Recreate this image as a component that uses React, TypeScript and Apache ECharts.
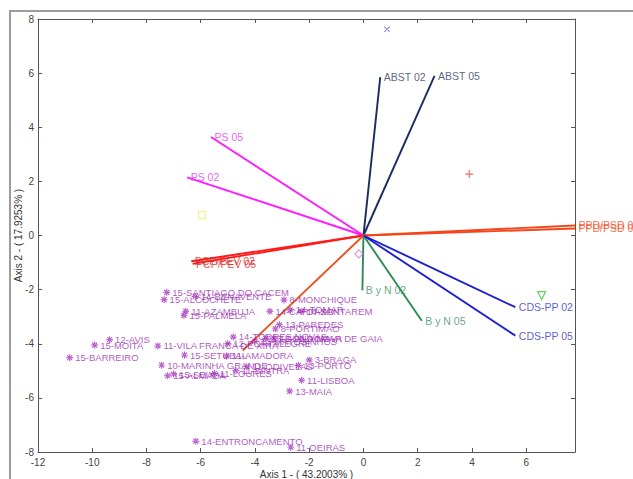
import React, { useEffect, useRef } from "react";
import * as echarts from "echarts";

// Variable vectors (loadings) : end points
const vectorNames = [
  "ABST 02", "ABST 05", "PS 02", "PS 05", "PCP/PEV 02", "PCP/PEV 05",
  "PPD/PSD 02", "PPD/PSD 05", "B y N 02", "B y N 05", "CDS-PP 02", "CDS-PP 05", "",
];
const vectorX = [0.62, 2.62, -6.5, -5.62, -6.35, -6.3, 7.8, 7.8, -0.04, 2.15, 5.6, 5.6, -4.45];
const vectorY = [5.85, 5.9, 2.15, 3.64, -0.95, -1.05, 0.37, 0.26, -2.02, -3.15, -2.65, -3.7, -4.25];

// Municipalities (scores)
const cityNames = [
  "15-SANTIAGO DO CACEM", "15-ALCOCHETE", "14-BENAVENTE", "11-AZAMBUJA", "15-PALMELA",
  "12-AVIS", "15-MOITA", "15-BARREIRO", "11-VILA FRANCA DE XIRA", "15-SETUBAL",
  "10-MARINHA GRANDE", "15-ALMADA", "15-SEIXAL", "11-AMADORA", "11-LOURES",
  "11-ODIVELAS", "11-SINTRA", "8-MONCHIQUE", "14-SANTAREM", "14-TOMAR",
  "14-CARTAXO", "13-PAREDES", "8-PORTIMAO", "14-TORRES NOVAS", "13-GONDOMAR",
  "13-VILA NOVA DE GAIA", "13-MATOSINHOS", "12-PORTALEGRE", "3-BRAGA", "13-PORTO",
  "11-LISBOA", "13-MAIA", "14-ENTRONCAMENTO", "11-OEIRAS",
];
const cityX = [
  -7.25, -7.35, -6.2, -6.55, -6.62,
  -9.36, -9.91, -10.83, -7.58, -6.6,
  -7.44, -7.22, -7.0, -5.05, -5.5,
  -4.3, -4.7, -2.93, -2.3, -2.7,
  -3.45, -3.1, -3.25, -4.8, -3.6,
  -3.3, -4.0, -5.0, -2.0, -2.4,
  -2.28, -2.72, -6.18, -2.68,
];
const cityY = [
  -2.1, -2.37, -2.25, -2.8, -2.95,
  -3.85, -4.05, -4.52, -4.08, -4.42,
  -4.79, -5.18, -5.12, -4.45, -5.1,
  -4.85, -5.0, -2.38, -2.8, -2.75,
  -2.8, -3.3, -3.45, -3.75, -3.8,
  -3.8, -3.9, -4.0, -4.6, -4.8,
  -5.35, -5.75, -7.6, -7.82,
];

// Group centroid markers
const centroidX = [0.87, 3.9, -5.95, -0.17, 6.57];
const centroidY = [7.62, 2.27, 0.75, -0.68, -2.22];

const xTicksStep = 2;

const vectorLineColors = [
  "#1c2c5c", "#1c2c5c", "#ff1aff", "#ff1aff", "#ff1a1a", "#ff1a1a",
  "#f5461a", "#f5461a", "#2e8b57", "#2e8b57", "#1e1ed2", "#1e1ed2", "#e8521e",
];
const vectorLabelColors = [
  "#2e3e60", "#2e3e60", "#dd3cdd", "#dd3cdd", "#e02020", "#e02020",
  "#f04a22", "#f04a22", "#3d9066", "#3d9066", "#3434c0", "#3434c0", "#e8521e",
];

const PLUS = "path://M-5,-0.7L5,-0.7L5,0.7L-5,0.7Z M-0.7,-5L0.7,-5L0.7,5L-0.7,5Z";
const CROSS =
  "path://M-3.08,-3.92L3.92,3.08L3.08,3.92L-3.92,-3.08Z M-3.08,3.92L3.92,-3.08L3.08,-3.92L-3.92,3.08Z";
const ASTER =
  "path://M-5,-0.7L5,-0.7L5,0.7L-5,0.7Z M-0.7,-5L0.7,-5L0.7,5L-0.7,5Z M-3.0,-4.0L4.0,3.0L3.0,4.0L-4.0,-3.0Z M-3.0,4.0L4.0,-3.0L3.0,-4.0L-4.0,3.0Z";

const centroidStyles = [
  { symbol: CROSS, size: 6, color: "#5050e0", fill: true },
  { symbol: PLUS, size: 8, color: "#e04848", fill: true },
  { symbol: "rect", size: 7, color: "#eded70", fill: false },
  { symbol: "diamond", size: 8, color: "#d878d8", fill: false },
  { symbol: "triangle", size: 8, color: "#44c044", fill: false, rotate: 180 },
];

const FONT = "'Liberation Sans', Arial, Helvetica, sans-serif";

export default function App() {
  const ref = useRef<HTMLDivElement>(null);
  useEffect(() => {
    if (!ref.current) return;
    const chart = echarts.init(ref.current, undefined, { renderer: "svg" });
    const axisCommon = {
      type: "value" as const,
      interval: xTicksStep,
      axisLine: { show: true, onZero: false, lineStyle: { color: "#555", width: 1 } },
      axisTick: { show: true, inside: true, length: 4, lineStyle: { color: "#555" } },
      splitLine: { show: false },
    };
    const fmt = (v: number) => (Math.abs(v % 2) < 1e-9 ? String(v) : "");
    chart.setOption({
      animation: false,
      backgroundColor: "#ffffff",
      textStyle: { fontFamily: FONT },
      grid: {
        left: 38,
        right: 58,
        top: 19,
        bottom: 27,
        show: false,
        containLabel: false,
        outerBoundsMode: "none",
      },
      graphic: [
        {
          type: "rect",
          shape: { x: 10, y: 11, width: 700, height: 600 },
          style: { fill: "none", stroke: "#9c9c9c", lineWidth: 2 },
          silent: true,
          z: -10,
        },
      ],
      xAxis: [
        {
          ...axisCommon,
          min: -12,
          max: 7.8,
          position: "bottom",
          name: "Axis 1 - ( 43.2003% )",
          nameLocation: "middle",
          nameGap: 17,
          nameMoveOverlap: false,
          nameTextStyle: { fontSize: 10, color: "#333", fontFamily: FONT },
          axisLabel: { formatter: fmt, fontSize: 10, color: "#444", margin: 5, fontFamily: FONT },
        },
        {
          ...axisCommon,
          min: -12,
          max: 7.8,
          position: "top",
          axisLabel: { show: false },
        },
      ],
      yAxis: [
        {
          ...axisCommon,
          min: -8,
          max: 8,
          position: "left",
          name: "Axis 2 - ( 17.9253% )",
          nameLocation: "middle",
          nameGap: 15,
          nameMoveOverlap: false,
          nameTextStyle: { fontSize: 10, color: "#333", fontFamily: FONT },
          axisLabel: { formatter: fmt, fontSize: 10, color: "#444", margin: 4, fontFamily: FONT },
        },
        {
          ...axisCommon,
          min: -8,
          max: 8,
          position: "right",
          axisLabel: { show: false },
        },
      ],
      series: [
        {
          type: "lines",
          coordinateSystem: "cartesian2d",
          xAxisIndex: 0,
          yAxisIndex: 0,
          silent: true,
          z: 3,
          data: vectorX.map((x, i) => ({
            coords: [
              [0, 0],
              [x, vectorY[i]],
            ],
            lineStyle: { color: vectorLineColors[i], width: 1.9, opacity: 1 },
          })),
        },
        {
          type: "scatter",
          xAxisIndex: 0,
          yAxisIndex: 0,
          clip: false,
          symbol: "circle",
          symbolSize: 1,
          itemStyle: { color: "rgba(0,0,0,0)" },
          z: 4,
          data: vectorX.map((x, i) => ({
            value: [x, vectorY[i]],
            name: vectorNames[i],
            label: {
              show: vectorNames[i] !== "",
              position: "right",
              distance: 3,
              formatter: vectorNames[i],
              color: vectorLabelColors[i],
              fontSize: 10.5,
              fontFamily: FONT,
            },
          })),
        },
        {
          type: "scatter",
          xAxisIndex: 0,
          yAxisIndex: 0,
          clip: false,
          symbol: ASTER,
          symbolSize: 7,
          itemStyle: { color: "#9a1cb8" },
          z: 5,
          label: {
            show: true,
            position: "right",
            distance: 2,
            formatter: (p: any) => p.name,
            color: "#9c2cb2",
            fontSize: 9.5,
            fontFamily: FONT,
          },
          data: cityX.map((x, i) => ({ value: [x, cityY[i]], name: cityNames[i] })),
        },
        {
          type: "scatter",
          xAxisIndex: 0,
          yAxisIndex: 0,
          clip: false,
          z: 5,
          data: centroidX.map((x, i) => {
            const s = centroidStyles[i];
            return {
              value: [x, centroidY[i]],
              symbol: s.symbol,
              symbolSize: s.size,
              symbolRotate: s.rotate || 0,
              itemStyle: s.fill
                ? { color: s.color }
                : { color: "rgba(255,255,255,0)", borderColor: s.color, borderWidth: 1.2 },
            };
          }),
        },
      ],
    });
    return () => chart.dispose();
  }, []);
  return (
    <div
      ref={ref}
      style={{ position: "fixed", left: 0, top: 0, width: 633, height: 479, background: "#fff" }}
    />
  );
}
